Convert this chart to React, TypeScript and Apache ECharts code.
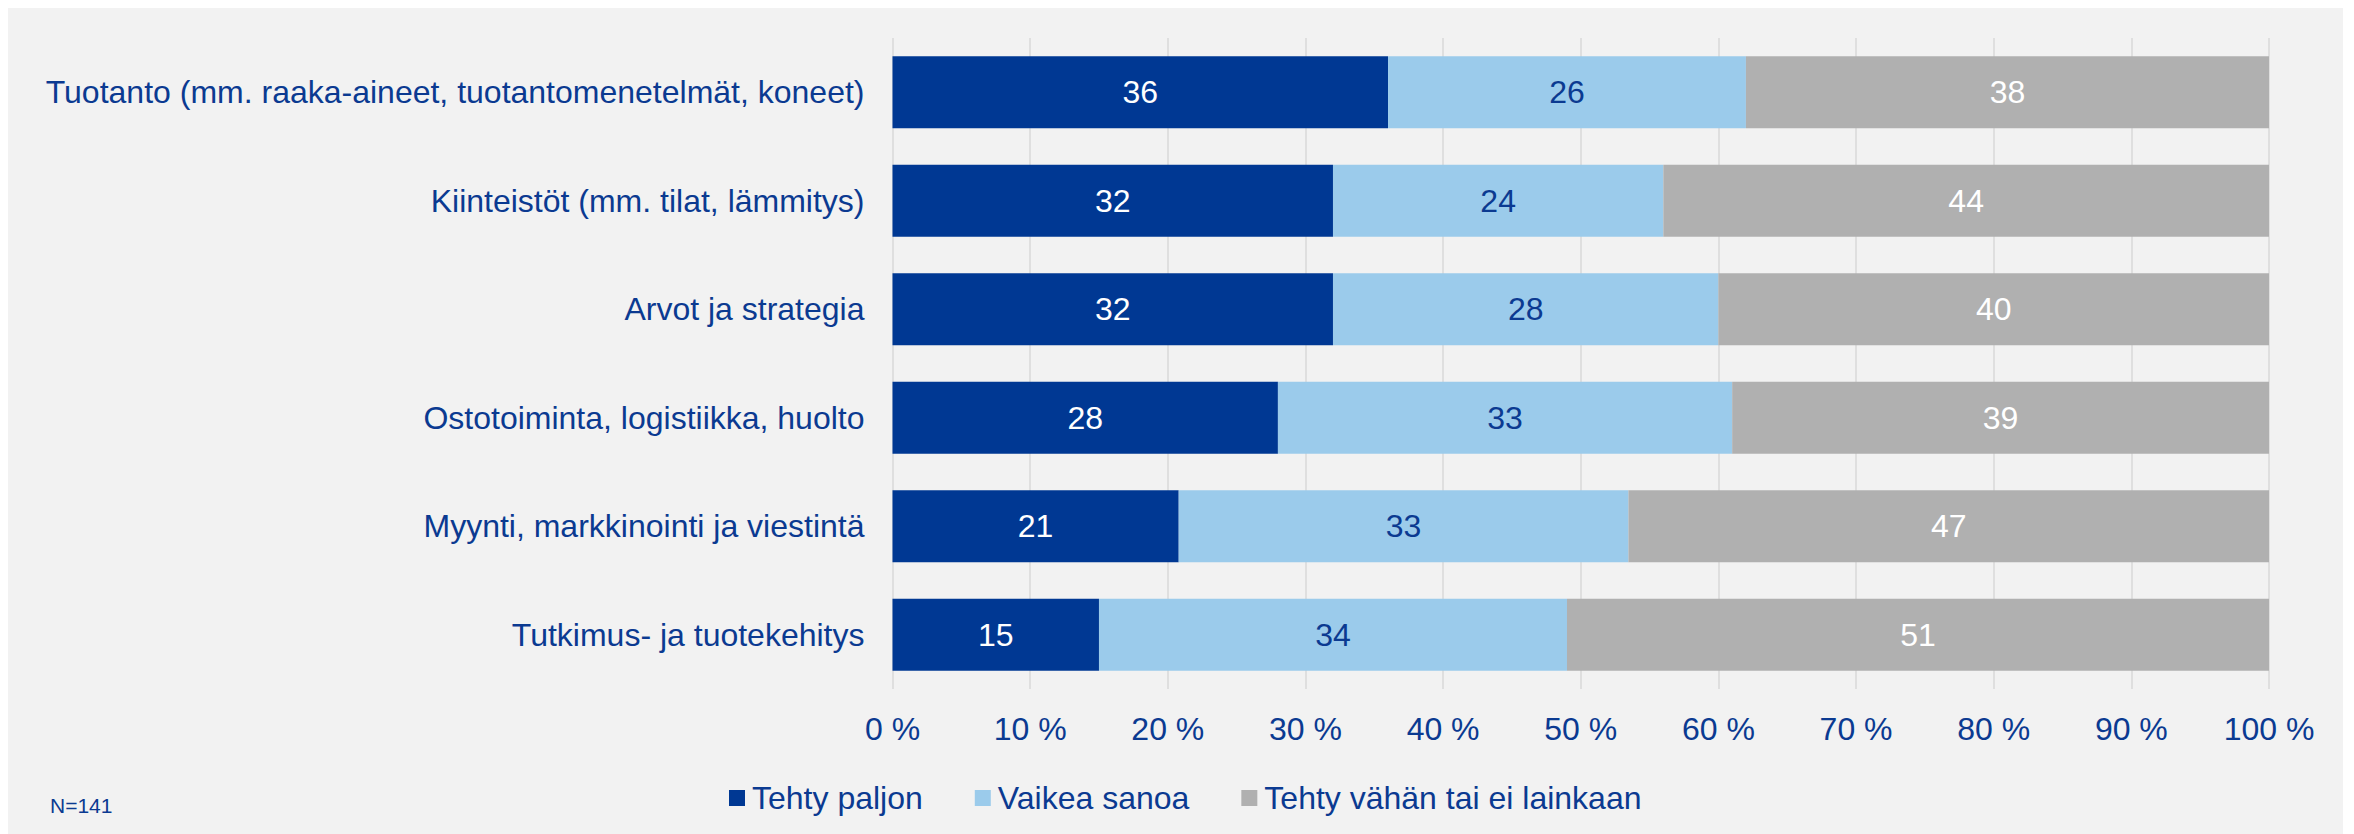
import React, { useEffect, useRef } from "react";
import * as echarts from "echarts";

const categories = [
  "Tuotanto (mm. raaka-aineet, tuotantomenetelmät, koneet)",
  "Kiinteistöt (mm. tilat, lämmitys)",
  "Arvot ja strategia",
  "Ostotoiminta, logistiikka, huolto",
  "Myynti, markkinointi ja viestintä",
  "Tutkimus- ja tuotekehitys",
];
const seriesNames = ["Tehty paljon", "Vaikea sanoa", "Tehty vähän tai ei lainkaan"];
const tehtyPaljon = [36, 32, 32, 28, 21, 15];
const vaikeaSanoa = [26, 24, 28, 33, 33, 34];
const tehtyVahan = [38, 44, 40, 39, 47, 51];
const xTicks = [0, 10, 20, 30, 40, 50, 60, 70, 80, 90, 100];
const note = "N=141";

const FONT = "'Liberation Sans', Arial, sans-serif";
const TEXT = "#0B3A91";
const COLORS = ["#003893", "#9BCBEB", "#B0B0B0"];
const LABEL_COLORS = ["#FFFFFF", "#0B3A91", "#FFFFFF"];

export default function App() {
  const ref = useRef<HTMLDivElement>(null);
  useEffect(() => {
    if (!ref.current) return;
    const chart = echarts.init(ref.current, null, { renderer: "svg" });
    const raw = [tehtyPaljon, vaikeaSanoa, tehtyVahan];
    const totals = categories.map((_, i) => raw.reduce((s, arr) => s + arr[i], 0));
    const series = raw.map((arr, si) => ({
      name: seriesNames[si],
      type: "bar",
      stack: "total",
      barCategoryGap: "33.7%",
      itemStyle: { color: COLORS[si] },
      label: {
        show: true,
        position: "inside",
        color: LABEL_COLORS[si],
        fontSize: 32,
        fontFamily: FONT,
        formatter: (p: any) => String(arr[p.dataIndex]),
      },
      data: arr.map((v, i) => (v / totals[i]) * 100),
    }));
    chart.setOption({
      animation: false,
      backgroundColor: "#F2F2F2",
      textStyle: { fontFamily: FONT },
      grid: { left: 884.5, right: 74, top: 30, bottom: 145 },
      legend: {
        data: seriesNames,
        left: 716,
        top: 769,
        itemWidth: 16,
        itemHeight: 16,
        itemGap: 52,
        icon: "rect",
        textStyle: { color: TEXT, fontSize: 32, fontFamily: FONT, padding: [0, 0, 0, 2] },
      },
      xAxis: {
        type: "value",
        min: xTicks[0],
        max: xTicks[xTicks.length - 1],
        interval: xTicks[1] - xTicks[0],
        axisLine: { show: false },
        axisTick: { show: false },
        splitLine: { show: true, lineStyle: { color: "#D9D9D9", width: 1.5 } },
        axisLabel: {
          color: TEXT,
          fontSize: 32,
          fontFamily: FONT,
          margin: 24,
          formatter: (v: number) => `${v} %`,
        },
      },
      yAxis: {
        type: "category",
        data: categories,
        inverse: true,
        axisLine: { show: false },
        axisTick: { show: false },
        axisLabel: { color: TEXT, fontSize: 32, fontFamily: FONT, margin: 28 },
      },
      graphic: [
        {
          type: "text",
          left: 42,
          top: 787,
          style: { text: note, fill: TEXT, fontSize: 21, fontFamily: FONT },
        },
      ],
      series,
    });
    return () => chart.dispose();
  }, []);
  return <div ref={ref} style={{ width: 2335, height: 826 }} />;
}
